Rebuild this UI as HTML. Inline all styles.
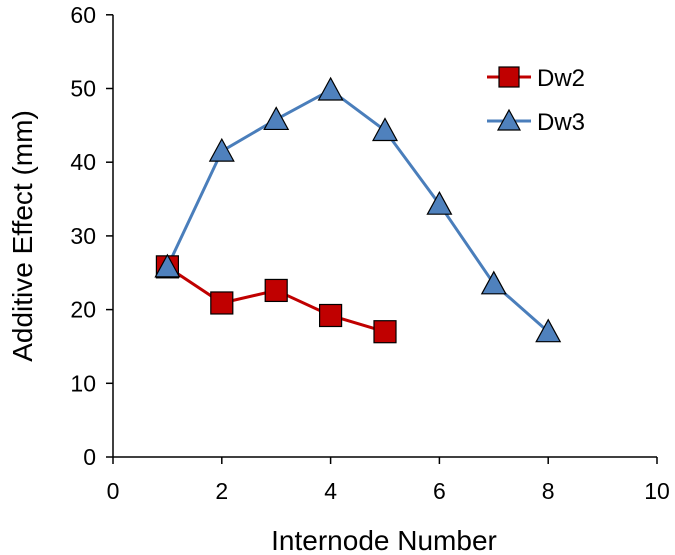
<!DOCTYPE html>
<html><head><meta charset="utf-8"><style>
body{margin:0;background:#fff}
svg{display:block;font-family:"Liberation Sans",Arial,sans-serif}
</style></head><body>
<svg id="chart" width="675" height="555" viewBox="0 0 675 555">
<g id="axes"></g><g id="series"></g>
<text x="384" y="550" font-size="28" text-anchor="middle" fill="#000">Internode Number</text>
<text transform="translate(32,236) rotate(-90)" font-size="28" text-anchor="middle" fill="#000">Additive Effect (mm)</text>
<g>
<g>
<line x1="487" y1="77" x2="531" y2="77" stroke="#c00000" stroke-width="3"/>
<rect x="499" y="67" width="20" height="20" fill="#c00000" stroke="#000" stroke-width="1.2"/>
<text x="537" y="86" font-size="24" fill="#000">Dw2</text></g>
<g>
<line x1="487" y1="121" x2="531" y2="121" stroke="#4a7ebb" stroke-width="3"/>
<polygon points="509,110 520,130 498,130" fill="#4f81bd" stroke="#000" stroke-width="1.2"/>
<text x="537" y="130" font-size="24" fill="#000">Dw3</text></g>
</g>
</svg>
<script>
const xTicks=[0,2,4,6,8,10];
const yTicks=[0,10,20,30,40,50,60];
const dw2X=[1,2,3,4,5];
const dw2Y=[25.8,20.9,22.6,19.2,17.0];
const dw3X=[1,2,3,4,5,6,7,8];
const dw3Y=[25.8,41.5,45.8,49.8,44.3,34.3,23.5,17.0];
const NS="http://www.w3.org/2000/svg";
const X=v=>113+v*54.4;
const Y=v=>457-v*7.37;
function mk(tag,attrs,parent){const e=document.createElementNS(NS,tag);for(const k in attrs)e.setAttribute(k,attrs[k]);parent.appendChild(e);return e;}
const axes=document.getElementById('axes');
const xa=mk('line',{x1:X(0),y1:Y(0),x2:X(10),y2:Y(0),stroke:'#000','stroke-width':1.5},axes);


const ya=mk('line',{x1:X(0),y1:Y(0),x2:X(0),y2:Y(60),stroke:'#000','stroke-width':1.5},axes);


xTicks.forEach(t=>{mk('line',{x1:X(t),y1:Y(0),x2:X(t),y2:Y(0)+7,stroke:'#000','stroke-width':1.5},axes);
const tx=mk('text',{x:X(t),y:499,'font-size':23,'text-anchor':'middle'},axes);tx.textContent=t;

});
yTicks.forEach(t=>{mk('line',{x1:X(0)-7,y1:Y(t),x2:X(0),y2:Y(t),stroke:'#000','stroke-width':1.5},axes);
const tx=mk('text',{x:96,y:Y(t)+8,'font-size':23,'text-anchor':'end'},axes);tx.textContent=t;

});
const s=document.getElementById('series');
const l2=mk('polyline',{points:dw2X.map((x,i)=>X(x)+','+Y(dw2Y[i])).join(' '),fill:'none',stroke:'#c00000','stroke-width':3},s);


const l3=mk('polyline',{points:dw3X.map((x,i)=>X(x)+','+Y(dw3Y[i])).join(' '),fill:'none',stroke:'#4a7ebb','stroke-width':3},s);


dw2X.forEach((x,i)=>{const r=mk('rect',{x:X(x)-11,y:Y(dw2Y[i])-11,width:22,height:22,fill:'#c00000',stroke:'#000','stroke-width':1.2},s);

});
dw3X.forEach((x,i)=>{const cx=X(x),cy=Y(dw3Y[i]);const p=mk('polygon',{points:`${cx},${cy-12} ${cx+12},${cy+10} ${cx-12},${cy+10}`,fill:'#4f81bd',stroke:'#000','stroke-width':1.2},s);

});
</script>
</body></html>
